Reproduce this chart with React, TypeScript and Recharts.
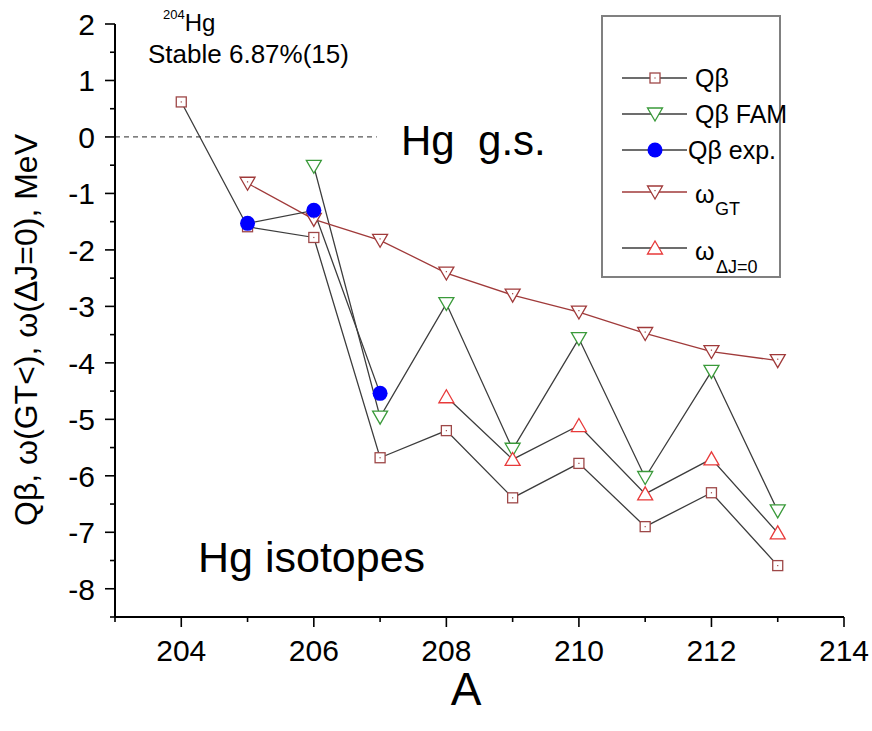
import React from "react";
import { LineChart, Line, XAxis, YAxis, ReferenceLine } from "recharts";

// mass numbers A
const massNumbers = [204, 205, 206, 207, 208, 209, 210, 211, 212, 213];
// values in MeV
const qBeta = [0.62, -1.59, -1.78, -5.68, -5.2, -6.39, -5.78, -6.9, -6.3, -7.59];
const qBetaFam = [null, null, -0.52, -4.96, -2.95, -5.53, -3.57, -6.03, -4.15, -6.62];
const qBetaExp = [null, -1.53, -1.3, -4.54, null, null, null, null, null, null];
const omegaGT = [null, -0.82, -1.46, -1.83, -2.41, -2.8, -3.1, -3.48, -3.8, -3.96];
const omegaDJ0 = [null, null, null, null, -4.6, -5.71, -5.11, -6.32, -5.7, -7.01];

const xTicks = [203, 204, 205, 206, 207, 208, 209, 210, 211, 212, 213, 214];
const yTicks = [-8.5, -8, -7.5, -7, -6.5, -6, -5.5, -5, -4.5, -4, -3.5, -3, -2.5, -2, -1.5, -1, -0.5, 0, 0.5, 1, 1.5, 2];

const rows = massNumbers.map((a, i) => ({
  a,
  qb: qBeta[i],
  fam: qBetaFam[i],
  exp: qBetaExp[i],
  gt: omegaGT[i],
  dj: omegaDJ0[i],
}));

const FONT = '"Liberation Sans", Arial, sans-serif';
const GRAY = "#3c3c3c";
const SQ = "#9e4848";
const GREEN = "#3a9a3a";
const DKRED = "#a03a3a";
const RED = "#e83a3a";

const Square = ({ cx, cy }: { cx: number; cy: number }) => (
  <g>
    <rect x={cx - 5} y={cy - 5} width={10} height={10} fill="#fff" stroke={SQ} strokeWidth={1.3} />
    <rect x={cx - 0.6} y={cy - 0.6} width={1.2} height={1.2} fill={SQ} />
  </g>
);

const Down = ({ cx, cy, color, dot }: { cx: number; cy: number; color: string; dot?: boolean }) => (
  <g>
    <polygon
      points={`${cx - 7.5},${cy - 6} ${cx + 7.5},${cy - 6} ${cx},${cy + 7}`}
      fill="#fff"
      stroke={color}
      strokeWidth={1.3}
    />
    {dot && <rect x={cx - 0.6} y={cy - 2} width={1.2} height={1.2} fill={color} />}
  </g>
);

const Up = ({ cx, cy, color }: { cx: number; cy: number; color: string }) => (
  <polygon
    points={`${cx - 7.5},${cy + 6} ${cx + 7.5},${cy + 6} ${cx},${cy - 7}`}
    fill="#fff"
    stroke={color}
    strokeWidth={1.3}
  />
);

const mk = (kind: string) => (props: any) => {
  const { cx, cy, value, index } = props;
  if (value == null || cx == null || cy == null) return <g key={`${kind}-${index}`} />;
  let el: React.ReactNode = null;
  if (kind === "qb") el = <Square cx={cx} cy={cy} />;
  if (kind === "fam") el = <Down cx={cx} cy={cy} color={GREEN} />;
  if (kind === "gt") el = <Down cx={cx} cy={cy} color={DKRED} dot />;
  if (kind === "dj") el = <Up cx={cx} cy={cy} color={RED} />;
  if (kind === "exp") el = <circle cx={cx} cy={cy} r={7.5} fill="#0000ff" />;
  return <g key={`${kind}-${index}`}>{el}</g>;
};

const XTick = (props: any) => {
  const { x, y, payload } = props;
  const v = payload.value;
  const major = v % 2 === 0;
  return (
    <g>
      <line x1={x} x2={x} y1={y} y2={y + (major ? 10 : 5)} stroke="#000" strokeWidth={1.6} />
      {major && (
        <text x={x} y={y + 44} textAnchor="middle" fontSize={30} fontFamily={FONT} fill="#000">
          {v}
        </text>
      )}
    </g>
  );
};

const YTick = (props: any) => {
  const { x, y, payload } = props;
  const v = payload.value;
  const major = Number.isInteger(v);
  return (
    <g>
      <line x1={x - (major ? 10 : 5)} x2={x} y1={y} y2={y} stroke="#000" strokeWidth={1.6} />
      {major && (
        <text x={x - 20} y={y + 11} textAnchor="end" fontSize={30} fontFamily={FONT} fill="#000">
          {v}
        </text>
      )}
    </g>
  );
};

const legendRows = [
  { y: 78, kind: "qb", line: GRAY },
  { y: 114, kind: "fam", line: GRAY },
  { y: 150, kind: "exp", line: GRAY },
  { y: 192, kind: "gt", line: DKRED },
  { y: 248, kind: "dj", line: GRAY },
];

export default function App() {
  return (
    <div style={{ position: "absolute", left: 0, top: 0, width: 872, height: 731, background: "#fff" }}>
      <LineChart width={872} height={731} data={rows} margin={{ top: 24, right: 28, bottom: 0, left: 0 }}>
        <XAxis
          type="number"
          dataKey="a"
          domain={[203, 214]}
          ticks={xTicks}
          interval={0}
          height={114}
          tickSize={0}
          tickMargin={0}
          tickLine={false}
          tick={<XTick />}
          axisLine={{ stroke: "#000", strokeWidth: 2 }}
        />
        <YAxis
          type="number"
          domain={[-8.5, 2]}
          ticks={yTicks}
          interval={0}
          width={115}
          tickSize={0}
          tickMargin={0}
          tickLine={false}
          tick={<YTick />}
          axisLine={{ stroke: "#000", strokeWidth: 2 }}
        />
        <ReferenceLine
          segment={[
            { x: 203, y: 0 },
            { x: 206.95, y: 0 },
          ]}
          stroke="#555"
          strokeWidth={1.2}
          strokeDasharray="5 4"
        />
        <Line dataKey="qb" stroke={GRAY} strokeWidth={1.3} dot={mk("qb")} activeDot={false} isAnimationActive={false} />
        <Line dataKey="fam" stroke={GRAY} strokeWidth={1.3} dot={mk("fam")} activeDot={false} isAnimationActive={false} />
        <Line dataKey="gt" stroke={DKRED} strokeWidth={1.3} dot={mk("gt")} activeDot={false} isAnimationActive={false} />
        <Line dataKey="dj" stroke={GRAY} strokeWidth={1.3} dot={mk("dj")} activeDot={false} isAnimationActive={false} />
        <Line dataKey="exp" stroke={GRAY} strokeWidth={1.3} dot={mk("exp")} activeDot={false} isAnimationActive={false} />
      </LineChart>
      <svg
        width={872}
        height={731}
        style={{ position: "absolute", left: 0, top: 0, pointerEvents: "none" }}
        fontFamily={FONT}
      >
        {/* annotations */}
        <text x={163} y={31} fontSize={24}>
          <tspan fontSize={13} dy={-12}>204</tspan>
          <tspan dy={12}>Hg</tspan>
        </text>
        <text x={148} y={63} fontSize={26}>Stable 6.87%(15)</text>
        <text x={401} y={155} fontSize={42} style={{ whiteSpace: "pre" }}>Hg  g.s.</text>
        <text x={198} y={572} fontSize={43}>Hg isotopes</text>
        <text x={466} y={705} fontSize={46} textAnchor="middle">A</text>
        <text transform="translate(37,330) rotate(-90)" textAnchor="middle" fontSize={32}>
          Qβ, ω(GT&lt;), ω(ΔJ=0), MeV
        </text>
        {/* legend */}
        <rect x={602} y={16} width={178} height={261} fill="none" stroke="#808080" strokeWidth={2} />
        {legendRows.map((r) => (
          <g key={r.kind}>
            <line x1={622} x2={687} y1={r.y} y2={r.y} stroke={r.line} strokeWidth={1.3} />
            {mk(r.kind)({ cx: 655, cy: r.y, value: 0, index: 0 })}
          </g>
        ))}
        <text x={695} y={87} fontSize={25}>Qβ</text>
        <text x={695} y={123} fontSize={25}>Qβ FAM</text>
        <text x={688} y={159} fontSize={25}>Qβ exp.</text>
        <text x={695} y={203} fontSize={25}>ω</text>
        <text x={715} y={215} fontSize={18}>GT</text>
        <text x={695} y={260} fontSize={25}>ω</text>
        <text x={716} y={273} fontSize={18}>ΔJ=0</text>
      </svg>
    </div>
  );
}
